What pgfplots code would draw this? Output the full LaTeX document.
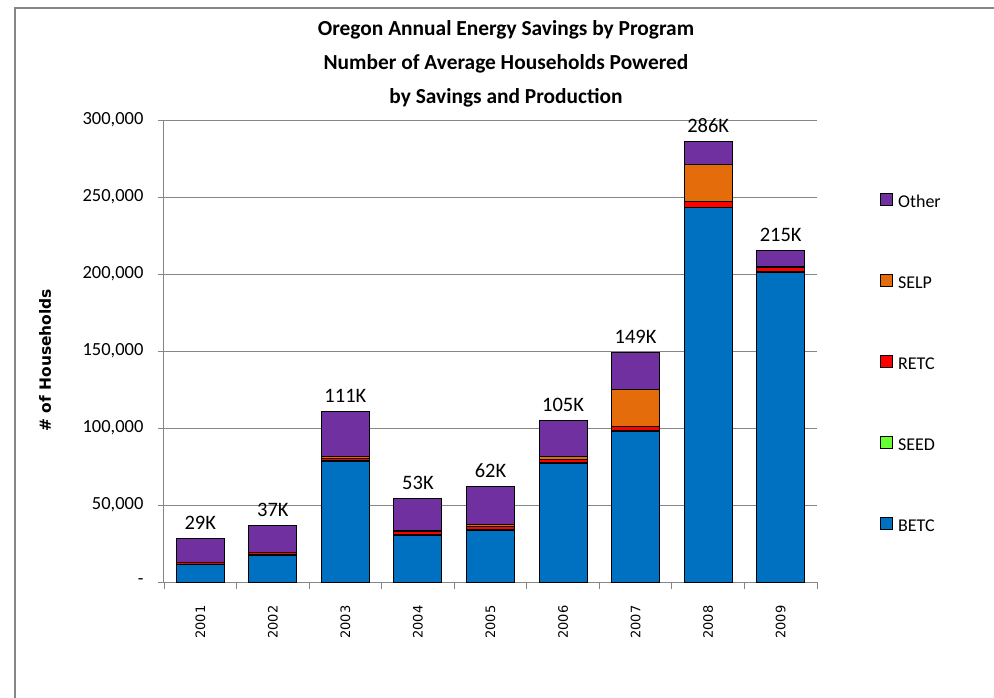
\documentclass[border=0pt]{standalone}
\usepackage{fontspec}
\setmainfont{Carlito}
\newfontfamily\dejavu{DejaVu Sans}
\usepackage{pgfplots}
\pgfplotsset{compat=1.18}
\definecolor{betc}{RGB}{0,112,192}
\definecolor{seed}{RGB}{102,255,51}
\definecolor{retc}{RGB}{255,0,0}
\definecolor{selp}{RGB}{228,108,10}
\definecolor{other}{RGB}{112,48,160}
\definecolor{gridgray}{RGB}{134,134,134}
\begin{document}
\begin{tikzpicture}[x=1pt,y=1pt]
\path[use as bounding box] (0,0) rectangle (994,697);
\draw[gridgray, line width=1.2pt] (15,-5) -- (15,689) -- (1000,689);
\node[align=center, font=\fontsize{21.4}{34}\selectfont\bfseries] at (506,633) {Oregon Annual Energy Savings by Program\\Number of Average Households Powered\\by Savings and Production};
\begin{axis}[at={(164pt,115pt)}, anchor=south west, scale only axis, width=653pt, height=462pt,
  ybar stacked, bar width=48pt,
  xmin=-0.5, xmax=8.5, ymin=0, ymax=300000,
  scaled y ticks=false,
  axis x line*=bottom, axis y line*=left,
  axis line style={gridgray, line width=1pt},
  xtick={0,...,8}, xticklabels={2001,2002,2003,2004,2005,2006,2007,2008,2009},
  major x tick style={draw=none},
  minor xtick={-0.5,0.5,...,8.5}, minor tick length=7pt,
  minor x tick style={gridgray, line width=0.8pt},
  ytick={0,50000,...,300000},
  yticklabels={-,{50,000},{100,000},{150,000},{200,000},{250,000},{300,000}},
  ymajorgrids, grid style={gridgray, line width=0.8pt},
  tick align=outside, major tick length=6pt,
  major y tick style={gridgray, line width=0.8pt},
  xticklabel style={rotate=90, anchor=east, font=\dejavu\fontsize{13}{15}\selectfont},
  xticklabel shift=14pt,
  yticklabel style={font=\fontsize{18.5}{21}\selectfont},
  yticklabel shift=11pt,
  ylabel={\# of Households},
  every axis y label/.style={at={(axis description cs:-0.182,0.48)}, rotate=90, anchor=center, font=\dejavu\bfseries\fontsize{15.5}{18}\selectfont},
  legend style={at={(axis description cs:1.0965,0.842)}, anchor=north west, draw=none, fill=none, inner sep=0pt, row sep=62.5pt,
    font=\fontsize{18}{21}\selectfont, nodes={inner sep=0pt, text height=12pt, text depth=4pt},
    /tikz/every odd column/.append style={column sep=5pt}},
  legend cell align=left, reverse legend,
  legend image code/.code={\draw[#1, draw=black, line width=0.9pt] (0pt,-2pt) rectangle (12pt,10pt);},
  clip=false,
]
\addplot[fill=betc, draw=black, line width=1pt] coordinates {(0,11300) (1,17500) (2,78500) (3,30500) (4,33500) (5,77000) (6,98000) (7,243000) (8,201000)};
\addplot[fill=seed, draw=black, line width=1pt] coordinates {(0,300) (1,300) (2,500) (3,500) (4,500) (5,500) (6,500) (7,500) (8,500)};
\addplot[fill=retc, draw=black, line width=1pt] coordinates {(0,800) (1,1200) (2,1500) (3,1500) (4,2000) (5,2000) (6,2500) (7,3500) (8,2500)};
\addplot[fill=selp, draw=black, line width=1pt] coordinates {(0,200) (1,300) (2,800) (3,1000) (4,1500) (5,2000) (6,23800) (7,24300) (8,800)};
\addplot[fill=other, draw=black, line width=1pt] coordinates {(0,15800) (1,17500) (2,29200) (3,20500) (4,24800) (5,23500) (6,24000) (7,14700) (8,10200)};
\legend{BETC,SEED,RETC,SELP,Other}
\node[font=\fontsize{20.5}{24}\selectfont, anchor=base, yshift=9pt] at (axis cs:0,28400) {29K};
\node[font=\fontsize{20.5}{24}\selectfont, anchor=base, yshift=9pt] at (axis cs:1,36800) {37K};
\node[font=\fontsize{20.5}{24}\selectfont, anchor=base, yshift=9pt] at (axis cs:2,110500) {111K};
\node[font=\fontsize{20.5}{24}\selectfont, anchor=base, yshift=9pt] at (axis cs:3,54000) {53K};
\node[font=\fontsize{20.5}{24}\selectfont, anchor=base, yshift=9pt] at (axis cs:4,62300) {62K};
\node[font=\fontsize{20.5}{24}\selectfont, anchor=base, yshift=9pt] at (axis cs:5,105000) {105K};
\node[font=\fontsize{20.5}{24}\selectfont, anchor=base, yshift=9pt] at (axis cs:6,148800) {149K};
\node[font=\fontsize{20.5}{24}\selectfont, anchor=base, yshift=9pt] at (axis cs:7,286000) {286K};
\node[font=\fontsize{20.5}{24}\selectfont, anchor=base, yshift=9pt] at (axis cs:8,215000) {215K};
\end{axis}
\end{tikzpicture}
\end{document}
